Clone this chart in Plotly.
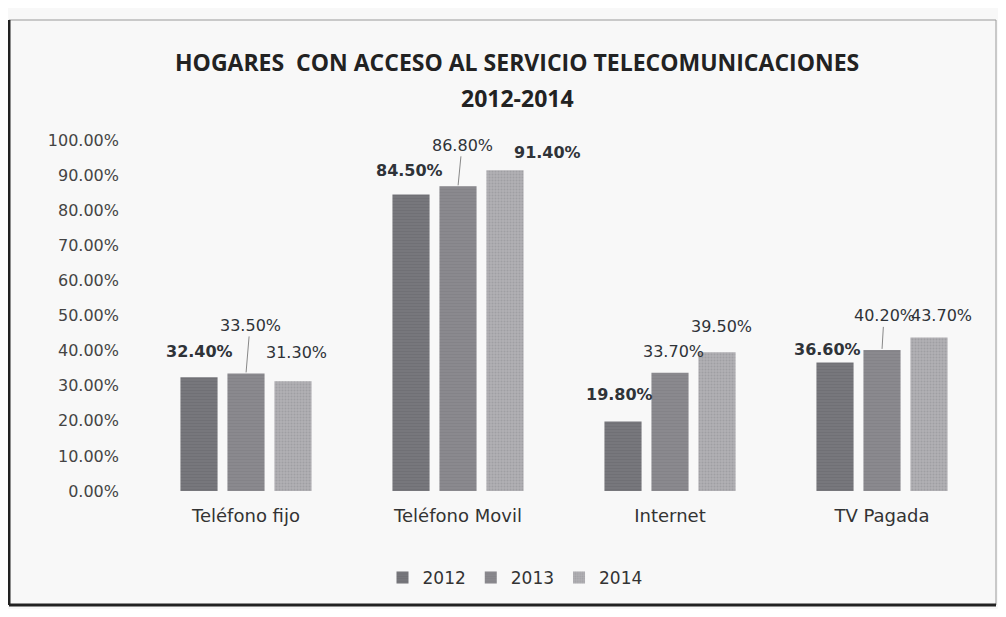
import plotly.graph_objects as go

categories = ["Teléfono fijo", "Teléfono Movil", "Internet", "TV Pagada"]
years = ["2012", "2013", "2014"]
values_2012 = [0.324, 0.845, 0.198, 0.366]
values_2013 = [0.335, 0.868, 0.337, 0.402]
values_2014 = [0.313, 0.914, 0.395, 0.437]
series = [values_2012, values_2013, values_2014]

colors = ["#77777c", "#8a898e", "#b1b0b4"]
patterns = [dict(shape="-", fgcolor="#66666a", size=3, solidity=0.25),
            dict(shape="-", fgcolor="#7a797e", size=3, solidity=0.25),
            dict(shape=".", fgcolor="#8e8d92", size=3, solidity=0.35)]

# label offsets (px) relative to bar top: (xshift, yshift, bold, leader)
label_style = [
    [(0, 26, True, False), (4, 48, False, True), (4, 29, False, False)],
    [(-2, 24, True, False), (4, 41, False, True), (43, 18, True, False)],
    [(-4, 27, True, False), (3, 21, False, False), (5, 26, False, False)],
    [(-8, 13, True, False), (2, 34, False, True), (13, 22, False, False)],
]

BARGAP = 0.335
slot = (1 - BARGAP) / 3

OFF = 8                      # page body margin
FW, FH = 1006 - 2 * OFF, 617 - 2 * OFF

# plot area in page pixels
PL, PR, PT, PB = 140, 988, 140, 491
L, T = PL - OFF, PT - OFF
R, B = FW - (PR - OFF), FH - (PB - OFF)
W, H = PR - PL, PB - PT


def px2paper(x, y):
    # page pixel -> paper coordinates
    return (x - PL) / W, (PB - y) / H


fig = go.Figure()
for i, (yr, vals) in enumerate(zip(years, series)):
    fig.add_trace(go.Bar(
        name=yr, x=categories, y=vals,
        marker=dict(color=colors[i], line=dict(width=0), pattern=patterns[i]),
    ))

annotations = []
for c, cat in enumerate(categories):
    for s, vals in enumerate(series):
        xs, ys, bold, leader = label_style[c][s]
        txt = f"{vals[c]*100:.2f}%"
        if bold:
            txt = f"<b>{txt}</b>"
        xpos = c + (s - 1) * slot
        common = dict(x=xpos, y=vals[c], xref="x", yref="y", text=txt,
                      font=dict(family="DejaVu Sans", size=16, color="#2f3338"))
        if leader:
            annotations.append(dict(**common, showarrow=True, ax=xs, ay=-ys,
                                    arrowhead=0, arrowwidth=1, arrowcolor="#888",
                                    standoff=1, startstandoff=0))
        else:
            annotations.append(dict(**common, showarrow=False, xshift=xs, yshift=ys))

title_lines = ["HOGARES  CON ACCESO AL SERVICIO TELECOMUNICACIONES", "2012-2014"]
for line, py in zip(title_lines, [62, 98]):
    tx, ty = px2paper(517, py)
    annotations.append(dict(x=tx, y=ty, xref="paper", yref="paper",
                            text=f"<b>{line}</b>", showarrow=False,
                            xanchor="center", yanchor="middle",
                            font=dict(family="Open Sans", size=23, color="#222")))

x0, y0 = px2paper(OFF + 1, 605)
x1, y1 = px2paper(OFF + FW - 2, 20)
shapes = [
    dict(type="rect", xref="paper", yref="paper", x0=x0, y0=y0, x1=x1, y1=y1,
         line=dict(color="#9a9a9a", width=1), layer="below"),
    dict(type="line", xref="paper", yref="paper", x0=x0, y0=y0, x1=x0, y1=y1,
         line=dict(color="#222", width=3)),
    dict(type="line", xref="paper", yref="paper", x0=x0, y0=y0, x1=x1, y1=y0,
         line=dict(color="#222", width=3)),
]

lx, ly = px2paper(515, 578)

fig.update_layout(
    width=FW, height=FH,
    margin=dict(l=L, r=R, t=T, b=B),
    paper_bgcolor="#f8f8f8", plot_bgcolor="rgba(0,0,0,0)",
    barmode="group", bargap=BARGAP, bargroupgap=0.21,
    annotations=annotations, shapes=shapes,
    showlegend=True,
    legend=dict(orientation="h", x=lx, y=ly, xanchor="center", yanchor="middle",
                font=dict(family="DejaVu Sans", size=17, color="#333"),
                bgcolor="rgba(0,0,0,0)", itemwidth=30),
    font=dict(family="DejaVu Sans", color="#444"),
)
fig.update_yaxes(range=[0, 1], dtick=0.1, tickformat=".2%", showgrid=False,
                 zeroline=False, showline=False,
                 tickfont=dict(family="DejaVu Sans", size=16, color="#444"),
                 ticklabelstandoff=20)
fig.update_xaxes(showgrid=False, showline=False, zeroline=False,
                 tickfont=dict(family="DejaVu Sans", size=18, color="#333"),
                 ticklabelstandoff=12)

fig.write_html("out.html")
